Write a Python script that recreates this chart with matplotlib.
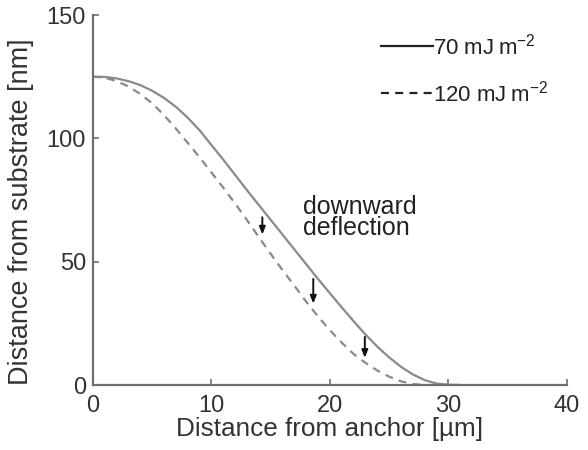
import matplotlib
matplotlib.use("Agg")
import matplotlib.pyplot as plt
from matplotlib.lines import Line2D

plt.rcParams['font.family'] = ['Liberation Sans', 'DejaVu Sans']
plt.rcParams['mathtext.default'] = 'regular'

# data
x_70 = list(range(0, 32))
y_70 = [125, 124.9, 124.3, 123.2, 121.6, 119.3, 116.4, 112.8, 108.4, 103.3,
        97.3, 91.4, 85.2, 79, 73, 67, 61, 55, 49, 43,
        37.2, 31.5, 25.9, 20.5, 15.6, 11.2, 7.4, 4.3, 2.0, 0.6,
        0.1, 0]
x_120 = list(range(0, 32))
y_120 = [125, 124.6, 123.2, 121, 118, 114.2, 109.4, 104, 98.2, 92.3,
         86.2, 80, 73.6, 66.9, 60, 53.2, 46.6, 40.3, 33.8, 27.8,
         22.2, 17.2, 12.6, 9, 5.9, 3.4, 1.5, 0.4, 0, 0,
         0, 0]
labels = ['70 mJ\u2009m$^{-2}$', '120 mJ\u2009m$^{-2}$']
arrow_x = [14.3, 18.6, 22.95]
arrow_top = [68, 43, 19.5]
arrow_bottom = [61, 33, 11]
annot_text = 'downward\ndeflection'
xticks = [0, 10, 20, 30, 40]
yticks = [0, 50, 100, 150]

fig = plt.figure(figsize=(5.88, 4.5), dpi=100)
ax = fig.add_axes([0.158, 0.1444, 0.806, 0.8222])

curve_col = '#8a8a8a'
ax.plot(x_70, y_70, color=curve_col, lw=1.6, solid_capstyle='butt')
ax.plot(x_120, y_120, color=curve_col, lw=1.6, linestyle=(0, (3.6, 2.8)))

for xa, yt, yb in zip(arrow_x, arrow_top, arrow_bottom):
    ax.annotate('', xy=(xa, yb), xytext=(xa, yt),
                arrowprops=dict(arrowstyle='-|>,head_length=0.45,head_width=0.18',
                                color='#111111', lw=1.4, shrinkA=0, shrinkB=0))

ax.text(17.7, 77, annot_text, fontsize=18, color='#222222', ha='left', va='top',
        linespacing=0.85)

ax.set_xlim(0, 40)
ax.set_ylim(0, 150)
ax.set_xticks(xticks)
ax.set_yticks(yticks)
for s in ['top', 'right']:
    ax.spines[s].set_visible(False)
for s in ['left', 'bottom']:
    ax.spines[s].set_color('#6e6e6e')
    ax.spines[s].set_linewidth(1.6)
ax.tick_params(direction='in', length=4, width=1.2, color='#6e6e6e',
               labelsize=17, labelcolor='#333333')
ax.tick_params(axis='x', pad=7)
ax.tick_params(axis='y', pad=5)
ax.set_xlabel('Distance from anchor [\u00b5m]', fontsize=18.8, color='#333333', labelpad=0)
ax.set_ylabel('Distance from substrate [nm]', fontsize=19.5, color='#333333')
ax.yaxis.set_label_coords(-0.125, 0.468)

handles = [Line2D([], [], color='#222222', lw=1.6),
           Line2D([], [], color='#222222', lw=1.6, linestyle=(0, (3.6, 2.8)))]
ax.legend(handles, labels, loc='upper left', bbox_to_anchor=(0.59, 0.975),
          frameon=False, fontsize=16, handlelength=2.3, handletextpad=0.0,
          labelspacing=0.95, borderaxespad=0, labelcolor='#222222')

fig.savefig('out.png', dpi=100)
